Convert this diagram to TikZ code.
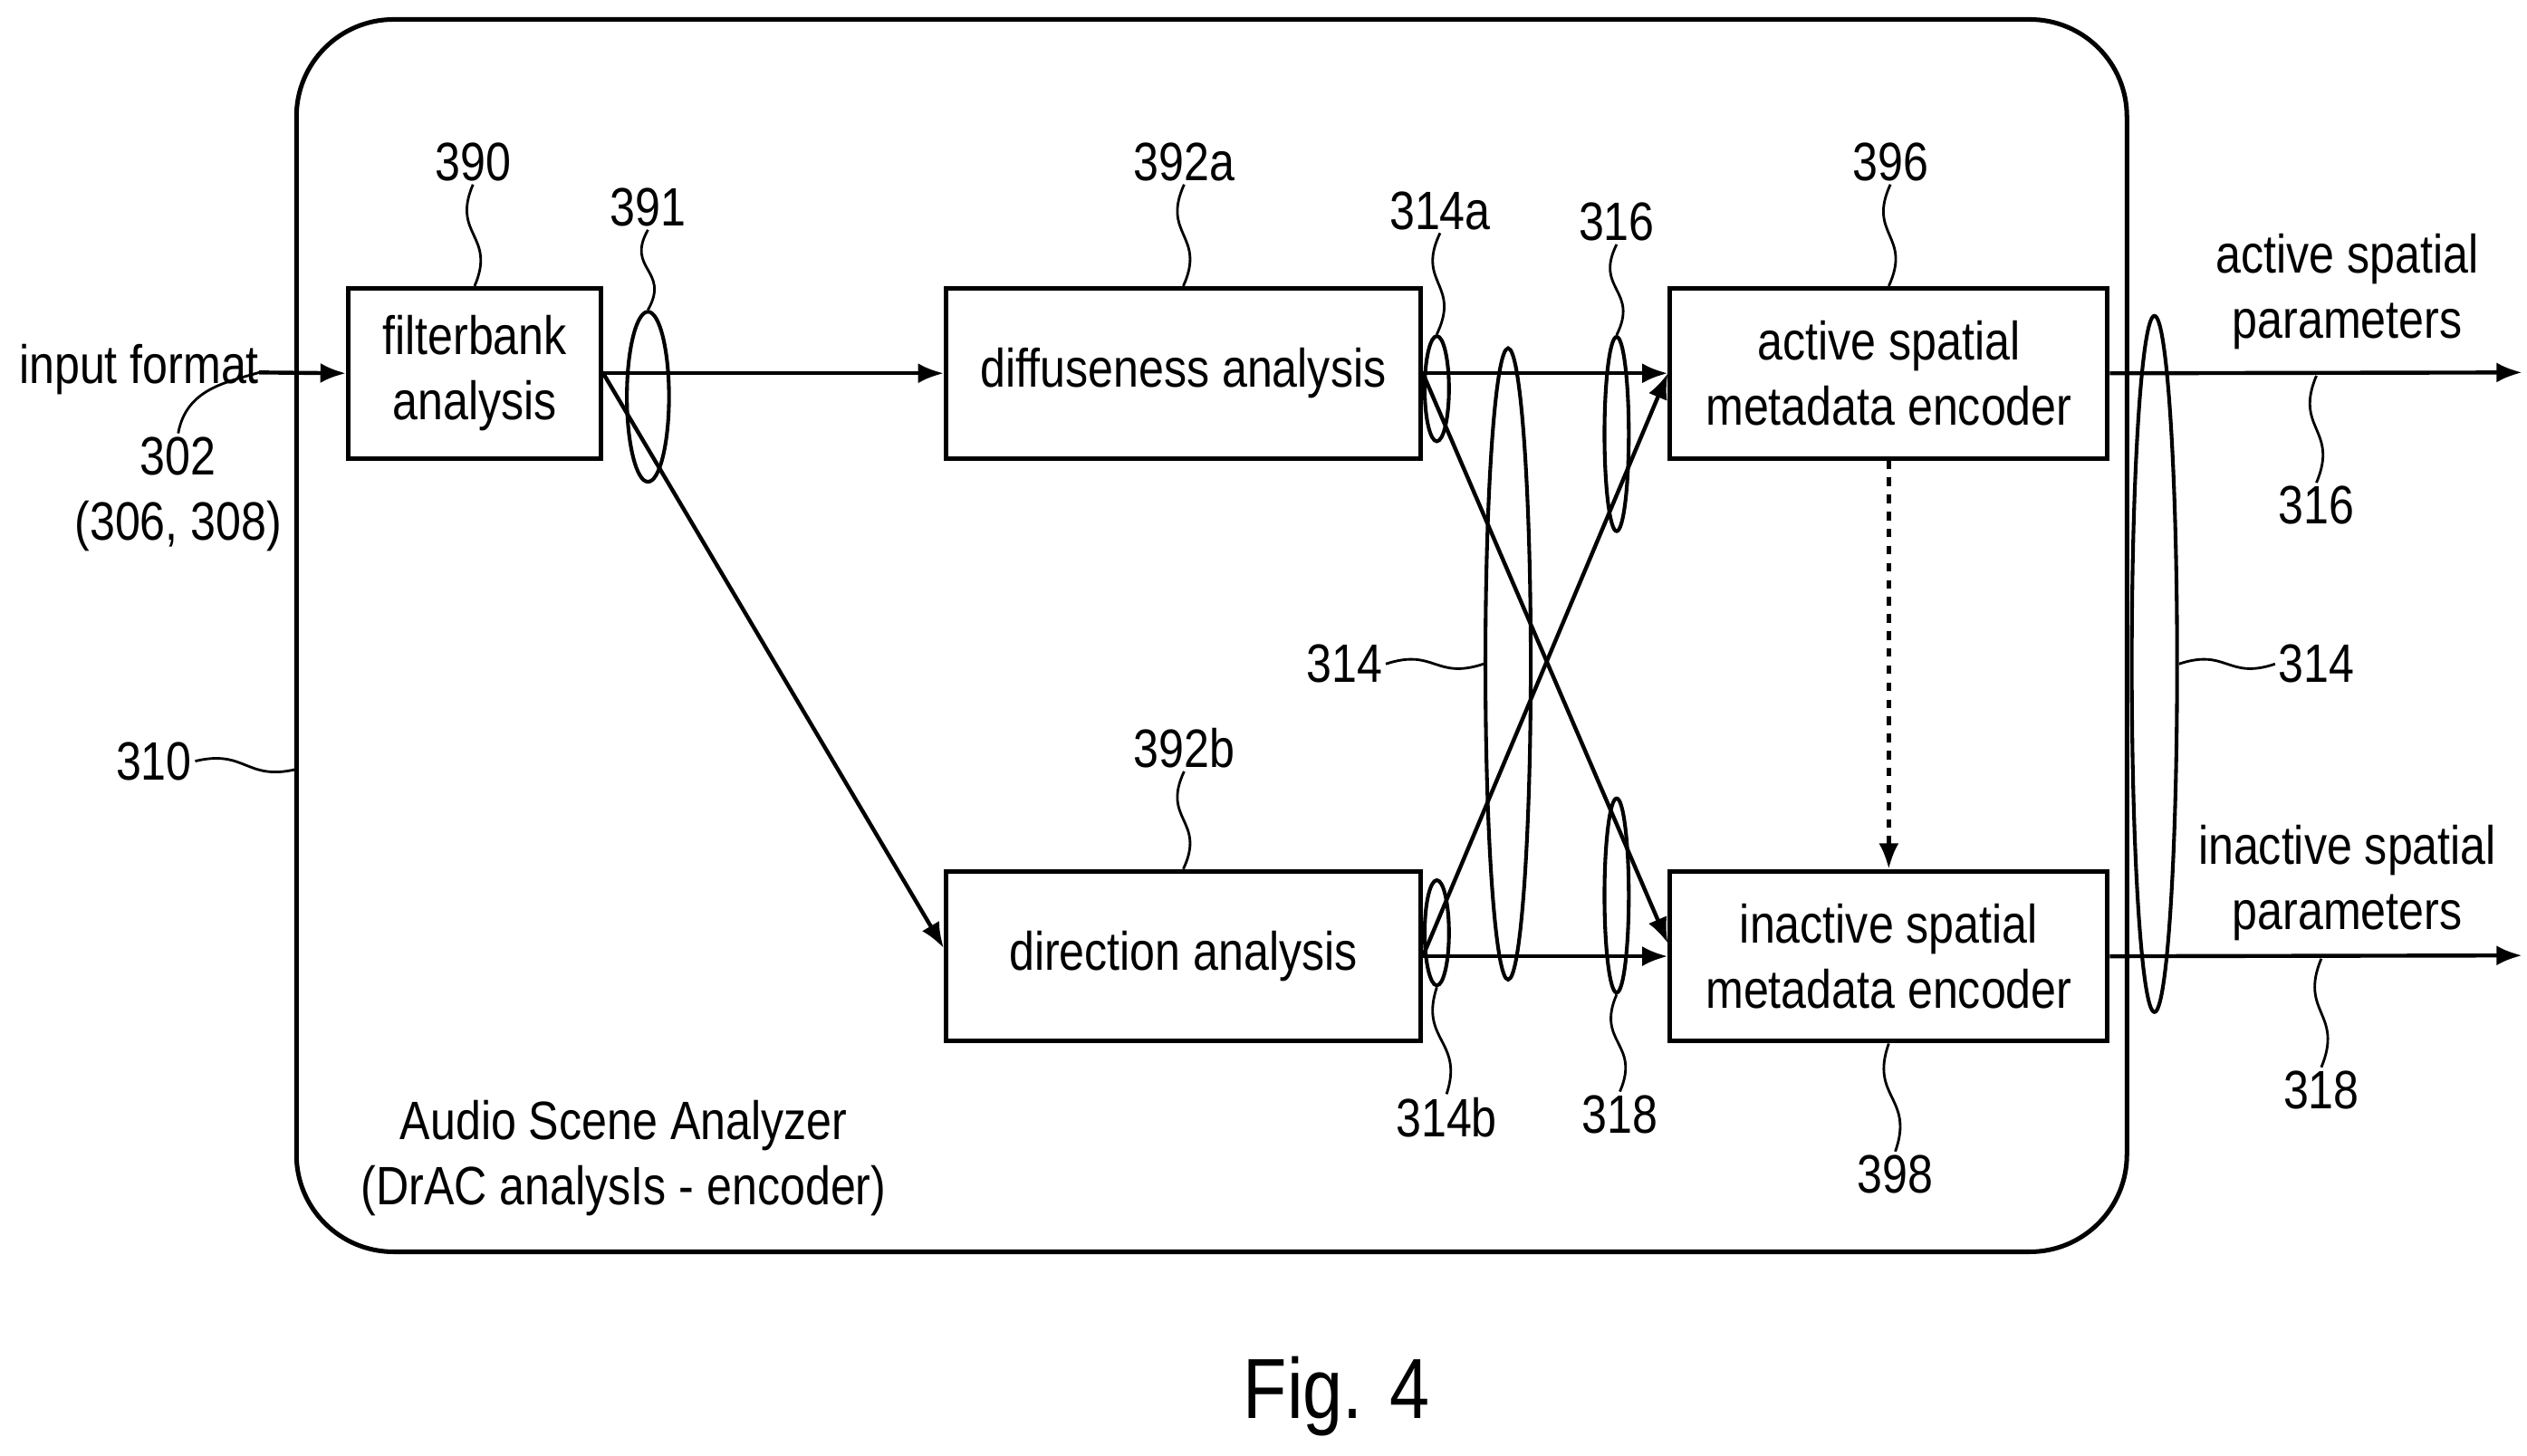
\documentclass[tikz,border=0pt]{standalone}
\usepackage{fontspec}
\setmainfont{Liberation Sans}[FakeStretch=0.84]
\usetikzlibrary{shapes.geometric,calc,arrows.meta}
\newcommand{\vlead}[2]{\draw[lead] (#1) .. controls ($(#1)!0.5!(#2)+(-14,0)$) and ($(#1)!0.5!(#2)+(14,0)$) .. (#2);}
\newcommand{\hlead}[2]{\draw[lead] (#1) .. controls ($(#1)!0.5!(#2)+(0,-10)$) and ($(#1)!0.5!(#2)+(0,10)$) .. (#2);}
\begin{document}
\begin{tikzpicture}[x=0.02cm,y=-0.02cm,
  every node/.style={font=\fontsize{19}{23}\selectfont},
  box/.style={draw,line width=1.6pt,align=center,minimum height=2.1cm,inner sep=0},
  lbl/.style={inner sep=1pt,align=center},
  ar/.style={line width=1.4pt,-{Latex[length=9pt,width=7pt]}},
  lead/.style={line width=0.9pt},
  ell/.style={draw,ellipse,line width=1.3pt,inner sep=0}]
\useasboundingbox (0,0) rectangle (1560,899);
\draw[line width=1.6pt,rounded corners=1.2cm] (183,12) rectangle (1313,773);
\node[box,minimum width=3.12cm] (fb) at (293,230.5) {filterbank\\analysis};
\node[box,minimum width=5.86cm] (diff) at (730.5,230.5) {diffuseness analysis};
\node[box,minimum width=5.86cm] (dir) at (730.5,590.5) {direction analysis};
\node[box,minimum width=5.4cm] (act) at (1166,230.5) {active spatial\\metadata encoder};
\node[box,minimum width=5.4cm] (inact) at (1166,590.5) {inactive spatial\\metadata encoder};
\coordinate (in) at (160,230);
\node[lbl,anchor=east] (inlbl) at (162,228) {input format};
\draw[ar] (in) -- (fb.west);
\draw[ar] (fb.east) -- (diff.west);
\draw[ar] (fb.east) -- ($(dir.west)+(0,-5)$);
\draw[ar] (diff.east) -- (act.west);
\draw[ar] (diff.east) -- ($(inact.west)+(0,-8)$);
\draw[ar] (dir.east) -- (act.west);
\draw[ar] (dir.east) -- (inact.west);
\draw[ar,dashed] (act.south) -- (inact.north);
\coordinate (o1) at (1557,230); \coordinate (o2) at (1557,590);
\draw[ar] (act.east) -- (o1);
\draw[ar] (inact.east) -- (o2);
\node[ell,minimum width=0.52cm,minimum height=2.1cm] (e391) at (400,245) {};
\node[ell,minimum width=0.3cm,minimum height=1.3cm] (e314a) at (887,240) {};
\node[ell,minimum width=0.3cm,minimum height=1.3cm] (e314b) at (887,576) {};
\node[ell,minimum width=0.56cm,minimum height=7.8cm] (e314) at (931,410) {};
\node[ell,minimum width=0.3cm,minimum height=2.4cm] (e316) at (998,268) {};
\node[ell,minimum width=0.3cm,minimum height=2.4cm] (e318) at (998,553) {};
\node[ell,minimum width=0.56cm,minimum height=8.6cm] (eout) at (1330,410) {};
\node[lbl] (l390) at (292,100) {390}; \vlead{l390.south}{fb.north}
\node[lbl] (l391) at (400,128) {391}; \vlead{l391.south}{e391.north}
\node[lbl] (l392a) at (731,100) {392a}; \vlead{l392a.south}{diff.north}
\node[lbl] (l396) at (1167,100) {396}; \vlead{l396.south}{act.north}
\node[lbl] (l314a) at (889,130) {314a}; \vlead{l314a.south}{e314a.north}
\node[lbl] (l316) at (998,137) {316}; \vlead{l316.south}{e316.north}
\node[lbl] (l302) at (110,305) {302\\(306, 308)};
\draw[lead] (in) .. controls (140,236) and (115,240) .. (l302.north);
\node[lbl] (l310) at (95,470) {310}; \hlead{l310.east}{183,475}
\node[lbl] (l314) at (830,410) {314}; \hlead{l314.east}{e314.west}
\node[lbl] (l392b) at (731,462) {392b}; \vlead{l392b.south}{dir.north}
\node[lbl] (l314b) at (893,690) {314b}; \vlead{e314b.south}{l314b.north}
\node[lbl] (l318) at (1000,688) {318}; \vlead{e318.south}{l318.north}
\node[lbl] (l398) at (1170,725) {398}; \vlead{inact.south}{l398.north}
\node[lbl] (lap) at (1449,180) {active spatial\\parameters};
\node[lbl] (lip) at (1449,545) {inactive spatial\\parameters};
\node[lbl] (r316) at (1430,312) {316}; \vlead{1430,232}{r316.north}
\node[lbl] (r314) at (1430,410) {314}; \hlead{eout.east}{r314.west}
\node[lbl] (r318) at (1433,673) {318}; \vlead{1433,592}{r318.north}
\node[lbl] (asa) at (385,715) {Audio Scene Analyzer\\(DrAC analysIs - encoder)};
\node[lbl,font=\fontsize{30}{36}\selectfont] (fig) at (825,862) {Fig. 4};
\end{tikzpicture}
\end{document}
